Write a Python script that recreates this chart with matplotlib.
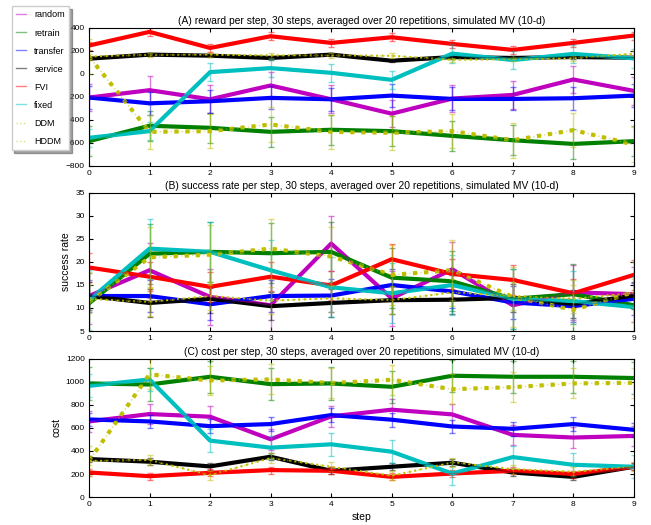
import numpy as np
import matplotlib
matplotlib.use('Agg')
import matplotlib.pyplot as plt
from matplotlib.lines import Line2D

steps = np.arange(10)
methods = ['random', 'retrain', 'transfer', 'service', 'FVI', 'fixed', 'DDM', 'HDDM']
colors = ['m', 'g', 'b', 'k', 'r', 'c', 'y', 'y']

# (A) reward
reward_random = [-206, -142, -221, -101, -221, -346, -215, -183, -49, -148]
reward_retrain = [-585, -451, -469, -504, -486, -498, -539, -577, -609, -585]
reward_transfer = [-206, -256, -238, -209, -221, -189, -218, -218, -212, -189]
reward_service = [132, 167, 158, 138, 167, 114, 146, 138, 146, 140]
reward_fvi = [246, 365, 225, 327, 269, 318, 260, 208, 269, 333]
reward_fixed = [-556, -498, 15, 50, 9, -52, 176, 120, 173, 135]
reward_ddm = [150, 165, 165, 160, 160, 157, 122, 128, 136, 175]
reward_hddm = [150, -504, -498, -440, -504, -512, -498, -577, -489, -615]
reward_err = [120, 130, 100, 15, 35, 80, 20, 150]

# (B) success rate
succ_random = [12.6, 18.2, 12.4, 10.6, 24.0, 12.1, 18.4, 10.6, 13.4, 13.0]
succ_retrain = [11.0, 21.8, 22.2, 21.9, 22.2, 16.6, 15.8, 12.0, 13.0, 10.6]
succ_transfer = [12.6, 12.6, 10.8, 12.6, 12.7, 15.0, 13.6, 11.2, 10.4, 12.0]
succ_service = [12.6, 11.1, 12.0, 10.4, 11.1, 11.7, 11.8, 12.2, 10.8, 12.7]
succ_fvi = [18.8, 16.8, 14.6, 16.8, 14.9, 20.6, 17.4, 16.1, 13.2, 17.2]
succ_fixed = [11.7, 22.9, 22.2, 18.2, 14.5, 13.2, 15.0, 12.0, 11.5, 10.2]
succ_ddm = [12.0, 11.3, 12.6, 11.6, 12.1, 11.7, 13.4, 12.6, 12.0, 13.3]
succ_hddm = [11.3, 21.0, 21.6, 22.9, 21.2, 17.2, 18.2, 12.4, 9.6, 13.4]
succ_err = [6.0, 6.5, 3.5, 3.0, 3.2, 6.5, 3.0, 6.5]

# (C) cost
cost_random = [657, 721, 698, 502, 701, 759, 718, 540, 517, 531]
cost_retrain = [987, 978, 1045, 981, 987, 958, 1054, 1045, 1045, 1034]
cost_transfer = [674, 657, 616, 634, 712, 672, 613, 593, 634, 584]
cost_service = [330, 307, 266, 350, 228, 263, 298, 213, 175, 263]
cost_fvi = [213, 181, 210, 234, 228, 175, 204, 228, 199, 263]
cost_fixed = [966, 1022, 490, 429, 458, 394, 204, 347, 280, 263]
cost_ddm = [315, 321, 190, 339, 263, 184, 301, 242, 219, 263]
cost_hddm = [315, 1066, 1013, 1022, 990, 1019, 937, 955, 987, 993]
cost_err = [90, 140, 60, 30, 30, 100, 40, 130]

reward = [reward_random, reward_retrain, reward_transfer, reward_service,
          reward_fvi, reward_fixed, reward_ddm, reward_hddm]
succ = [succ_random, succ_retrain, succ_transfer, succ_service,
        succ_fvi, succ_fixed, succ_ddm, succ_hddm]
cost = [cost_random, cost_retrain, cost_transfer, cost_service,
        cost_fvi, cost_fixed, cost_ddm, cost_hddm]

plt.rcParams['font.family'] = ['Liberation Sans', 'DejaVu Sans']
plt.rcParams['xtick.direction'] = 'in'
plt.rcParams['ytick.direction'] = 'in'
plt.rcParams['xtick.top'] = True
plt.rcParams['ytick.right'] = True

fig = plt.figure(figsize=(6.51, 5.25), dpi=100)
left, width, height = 0.1367, 0.837, 0.263
bottoms = [0.684, 0.3695, 0.0533]
titles = ['(A) reward per step, 30 steps, averaged over 20 repetitions, simulated MV (10-d)',
          '(B) success rate per step, 30 steps, averaged over 20 repetitions, simulated MV (10-d)',
          '(C) cost per step, 30 steps, averaged over 20 repetitions, simulated MV (10-d)']
datas = [reward, succ, cost]
errs = [reward_err, succ_err, cost_err]
ylims = [(-800, 400), (5, 35), (0, 1200)]
yticks = [np.arange(-800, 401, 200), np.arange(5, 36, 5), np.arange(0, 1201, 200)]
ylabels = ['', 'success rate', 'cost']

for k in range(3):
    ax = fig.add_axes([left, bottoms[k], width, height])
    for i, m in enumerate(methods):
        ls = ':' if m in ('DDM', 'HDDM') else '-'
        lw = 1.5 if m == 'DDM' else 3
        # thin pale line + error bars, then the thick line on top
        ax.errorbar(steps, datas[k][i], yerr=errs[k][i], color=colors[i], alpha=0.5,
                    lw=1, ls=ls, capsize=2, elinewidth=1)
        ax.plot(steps, datas[k][i], color=colors[i], lw=lw, ls=ls)
    ax.set_xlim(0, 9)
    ax.set_ylim(*ylims[k])
    ax.set_yticks(yticks[k])
    ax.set_xticks(steps)
    ax.tick_params(labelsize=6, length=3, pad=3)
    ax.set_title(titles[k], fontsize=7.4, pad=3)
    if ylabels[k]:
        ax.set_ylabel(ylabels[k], fontsize=7.5, labelpad=3)
    if k == 2:
        ax.set_xlabel('step', fontsize=7.5, labelpad=3)

handles = [Line2D([], [], color=c, alpha=0.5, lw=1,
                  ls=':' if m in ('DDM', 'HDDM') else '-')
           for m, c in zip(methods, colors)]
fig.legend(handles, methods, loc='upper left', bbox_to_anchor=(0.018, 0.9886),
           borderaxespad=0, fontsize=6.5, frameon=True, fancybox=False, shadow=True,
           handlelength=1.1, handletextpad=0.9, labelspacing=1.0, borderpad=0.5)

plt.savefig('out.png', dpi=100)
